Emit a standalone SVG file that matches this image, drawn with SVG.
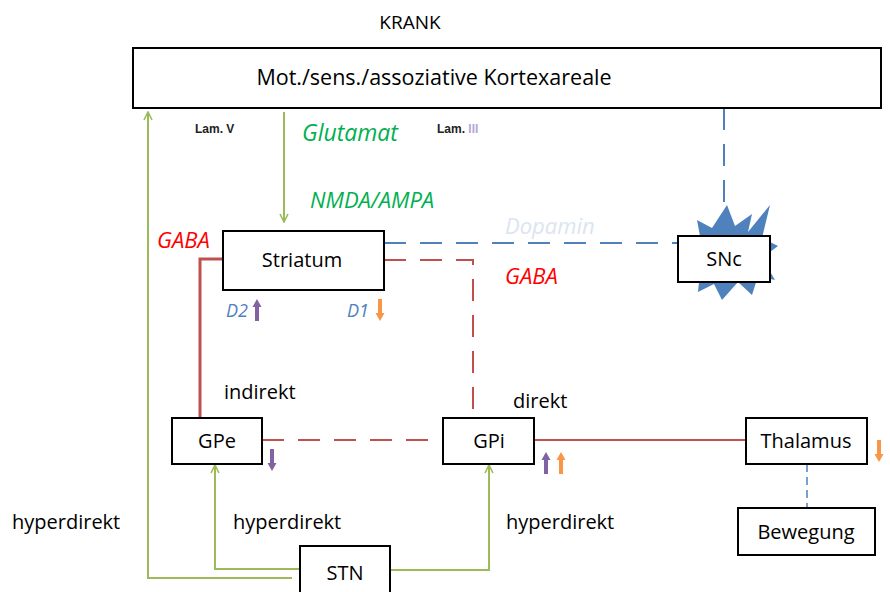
<svg xmlns="http://www.w3.org/2000/svg" width="890" height="592" viewBox="0 0 890 592">
<defs>
<style>
.box{fill:#fff;stroke:#000;stroke-width:2}
.t{font-family:"Open Sans","Liberation Sans",sans-serif;font-size:20px;fill:#000;text-anchor:middle}
.lbl{font-family:"Open Sans","Liberation Sans",sans-serif;font-size:20px;fill:#000}
.it{font-family:"Open Sans","Liberation Sans",sans-serif;font-size:22px;font-style:italic}
.sm{font-family:"Liberation Sans",sans-serif;font-size:12px;font-weight:bold;fill:#222}
.g{fill:none;stroke:#9bbb59;stroke-width:2}
.r{fill:none;stroke:#c0504d;stroke-width:2}
.rd{fill:none;stroke:#c0504d;stroke-width:2;stroke-dasharray:22,14}
.bd{fill:none;stroke:#4f81bd;stroke-width:2;stroke-dasharray:22,14}
</style>
<marker id="ga" viewBox="0 0 10 10" refX="9" refY="5" markerWidth="10" markerHeight="10" markerUnits="userSpaceOnUse" orient="auto">
<path d="M1,1 L9,5 L1,9" fill="none" stroke="#9bbb59" stroke-width="1.6"/>
</marker>
<path id="up" d="M-2,0 L-2,-14 L-4.5,-14 L0,-22 L4.5,-14 L2,-14 L2,0 Z"/>
</defs>

<text x="410" y="29" class="t" style="font-size:19px">KRANK</text>

<g id="connectors">
<polyline class="g" points="292,578 148,578 148,112" marker-end="url(#ga)"/>
<line class="g" x1="284" y1="112" x2="284" y2="222" marker-end="url(#ga)"/>
<polyline class="g" points="300,569 215,569 215,465" marker-end="url(#ga)"/>
<polyline class="g" points="390,570 489,570 489,465" marker-end="url(#ga)"/>
<polyline class="r" style="stroke-width:3" points="223,259 200,259 200,418"/>
<polyline class="rd" points="384,260 473,260 473,418"/>
<line class="rd" x1="262" y1="440" x2="443" y2="440"/>
<line class="r" x1="534" y1="440" x2="747" y2="440"/>
<line class="bd" x1="384" y1="243" x2="678" y2="243"/>
<line class="bd" x1="724" y1="108" x2="724" y2="210"/>
<line x1="807" y1="464" x2="807" y2="508" stroke="#4f81bd" stroke-width="1.5" stroke-dasharray="8,5"/>
</g>

<g id="cortex">
<rect class="box" x="133" y="48" width="748" height="60"/>
<text x="434" y="85" class="t" style="font-size:21.5px">Mot./sens./assoziative Kortexareale</text>
</g>

<g id="snc">
<polygon fill="#4f81bd" points="697,220 712,228 727,205 735,226 752,214 748,232 770,205 762,238 778,246 762,258 775,280 758,276 752,295 738,282 722,300 714,284 698,292 700,272 686,262 696,250 682,238 700,236"/>
<rect class="box" x="678" y="236" width="92" height="46"/>
<text x="724" y="266" class="t">SNc</text>
</g>

<g id="striatum">
<rect class="box" x="223" y="231" width="161" height="59"/>
<text x="302" y="267" class="t">Striatum</text>
</g>

<g id="gpe">
<rect class="box" x="172" y="418" width="90" height="46"/>
<text x="217" y="448" class="t">GPe</text>
</g>

<g id="gpi">
<rect class="box" x="443" y="418" width="91" height="46"/>
<text x="489" y="448" class="t">GPi</text>
</g>

<g id="thalamus">
<rect class="box" x="746" y="418" width="121" height="46"/>
<text x="806" y="448" class="t">Thalamus</text>
</g>

<g id="bewegung">
<rect class="box" x="738" y="508" width="137" height="47"/>
<text x="806" y="539" class="t">Bewegung</text>
</g>

<g id="stn">
<rect class="box" x="300" y="546" width="90" height="50"/>
<text x="345" y="580" class="t">STN</text>
</g>

<g id="labels">
<text x="195" y="133" class="sm">Lam. V</text>
<text x="437" y="133" class="sm">Lam. <tspan fill="#b4a7d6">III</tspan></text>
<text x="302" y="141" class="it" fill="#00b050" style="font-size:23px">Glutamat</text>
<text x="310" y="208" class="it" fill="#00b050">NMDA/AMPA</text>
<text x="157" y="248" class="it" fill="#ff0000">GABA</text>
<text x="505" y="234" class="it" fill="#dbe5f1">Dopamin</text>
<text x="505" y="284" class="it" fill="#ff0000">GABA</text>
<text x="226" y="317" class="it" fill="#4f81bd" style="font-size:18px">D2</text>
<text x="347" y="317" class="it" fill="#4f81bd" style="font-size:18px">D1</text>
<text x="224" y="399" class="lbl">indirekt</text>
<text x="513" y="408" class="lbl">direkt</text>
<text x="12" y="529" class="lbl">hyperdirekt</text>
<text x="233" y="529" class="lbl">hyperdirekt</text>
<text x="506" y="529" class="lbl">hyperdirekt</text>
</g>

<g id="arrows">
<use href="#up" x="257" y="321" fill="#8064a2"/>
<use href="#up" transform="translate(380,299) rotate(180)" fill="#f79646"/>
<use href="#up" transform="translate(272,449) rotate(180)" fill="#8064a2"/>
<use href="#up" x="546" y="474" fill="#8064a2"/>
<use href="#up" x="561" y="474" fill="#f79646"/>
<use href="#up" transform="translate(879,440) rotate(180)" fill="#f79646"/>
</g>
</svg>
